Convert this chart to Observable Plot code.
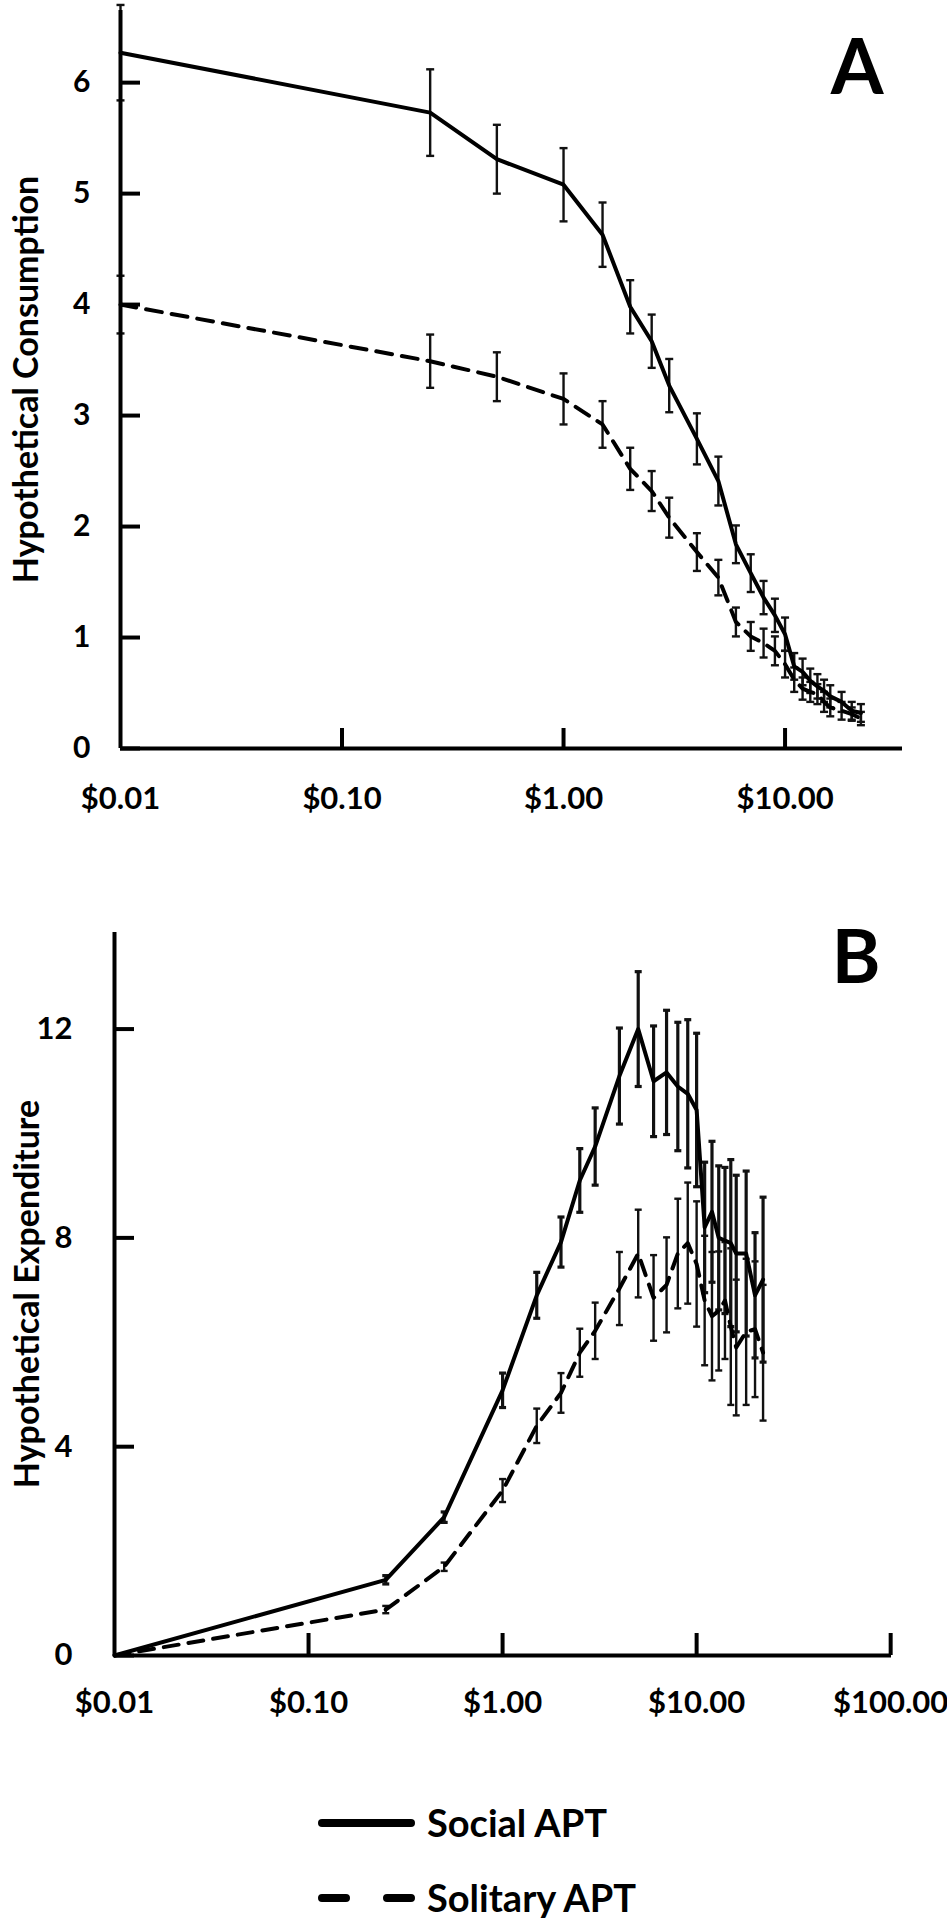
<!DOCTYPE html>
<html>
<head>
<meta charset="utf-8">
<script src="https://cdn.jsdelivr.net/npm/d3@7"></script>
<script src="https://cdn.jsdelivr.net/npm/@observablehq/plot@0.6"></script>
<style>
  html, body { margin: 0; padding: 0; background: #fff; }
  body { width: 947px; height: 1920px; overflow: hidden; font-family: Lato, "Open Sans", sans-serif; }
  #a, #b, #legend { display: block; }
  #a svg, #b svg { display: block; }
</style>
</head>
<body>
<div id="a"></div>
<div id="b"></div>
<div id="legend"></div>
<script>
// ---------- data ----------
// price $0 is plotted at $0.01 on the log axis
const prices = [0.01, 0.25, 0.5, 1, 1.5, 2, 2.5, 3, 4, 5, 6, 7, 8, 9, 10, 11, 12, 13, 14, 15, 16, 18, 20, 22];
const seriesNames = ["Social APT", "Solitary APT"];

// Panel A: hypothetical consumption (mean, SE)
const socialConsumption   = [6.27, 5.73, 5.31, 5.08, 4.63, 3.98, 3.67, 3.27, 2.79, 2.41, 1.84, 1.58, 1.36, 1.20, 1.03, 0.74, 0.69, 0.61, 0.56, 0.52, 0.47, 0.42, 0.34, 0.32];
const socialConsumptionSE = [0.43, 0.39, 0.31, 0.33, 0.29, 0.24, 0.24, 0.24, 0.23, 0.22, 0.17, 0.17, 0.15, 0.15, 0.15, 0.12, 0.12, 0.11, 0.11, 0.10, 0.10, 0.09, 0.08, 0.08];
const solitaryConsumption   = [4.00, 3.49, 3.35, 3.15, 2.92, 2.52, 2.32, 2.08, 1.77, 1.54, 1.14, 1.01, 0.95, 0.88, 0.76, 0.62, 0.54, 0.51, 0.49, 0.42, 0.37, 0.34, 0.31, 0.27];
const solitaryConsumptionSE = [0.26, 0.24, 0.22, 0.23, 0.21, 0.19, 0.18, 0.18, 0.17, 0.16, 0.13, 0.13, 0.13, 0.13, 0.12, 0.11, 0.10, 0.09, 0.09, 0.09, 0.08, 0.08, 0.06, 0.06];

// Panel B: hypothetical expenditure (mean, SE)
const socialExpenditure   = [0, 1.45, 2.65, 5.08, 6.90, 7.92, 9.10, 9.75, 11.10, 12.00, 11.00, 11.17, 10.90, 10.76, 10.45, 8.20, 8.50, 8.00, 7.95, 7.90, 7.70, 7.70, 6.90, 7.20];
const socialExpenditureSE = [0, 0.08, 0.10, 0.33, 0.44, 0.48, 0.61, 0.74, 0.92, 1.10, 1.06, 1.19, 1.23, 1.42, 1.47, 1.25, 1.35, 1.38, 1.40, 1.60, 1.50, 1.58, 1.20, 1.58];
const solitaryExpenditure   = [0, 0.88, 1.70, 3.16, 4.40, 5.03, 5.80, 6.22, 7.03, 7.70, 6.85, 7.10, 7.70, 7.90, 7.50, 6.80, 6.50, 6.60, 6.80, 6.30, 5.90, 6.20, 6.25, 5.80];
const solitaryExpenditureSE = [0, 0.07, 0.08, 0.22, 0.33, 0.38, 0.46, 0.54, 0.70, 0.84, 0.82, 0.91, 1.05, 1.16, 1.20, 1.24, 1.23, 1.14, 1.12, 1.50, 1.30, 1.40, 1.30, 1.30];

// axes
const xTicksA = [0.01, 0.1, 1, 10];
const xTicksB = [0.01, 0.1, 1, 10, 100];
const yTicksA = [0, 1, 2, 3, 4, 5, 6];
const yTicksB = [0, 4, 8, 12];
const yLabelA = "Hypothetical Consumption";
const yLabelB = "Hypothetical Expenditure";
const panelLetters = ["A", "B"];

// ---------- build ----------
const rows = (vals, ses) => prices.map((p, i) => ({price: p, value: vals[i], se: ses[i]}));
const socialA = rows(socialConsumption, socialConsumptionSE);
const solitaryA = rows(solitaryConsumption, solitaryConsumptionSE);
const socialB = rows(socialExpenditure, socialExpenditureSE);
const solitaryB = rows(solitaryExpenditure, solitaryExpenditureSE);

const FONT = "Lato, 'Open Sans', sans-serif";
const capSymbol = { draw(ctx, size) { const r = Math.sqrt(size / Math.PI); ctx.moveTo(-r, 0); ctx.lineTo(r, 0); } };
const money = d => "$" + d.toFixed(2);
const intFmt = d => String(Math.round(d));

function errorBars(data, sw, r) {
  const d = data.filter(e => e.se > 0);
  return [
    Plot.ruleX(d, {x: "price", y1: e => e.value - e.se, y2: e => e.value + e.se, stroke: "#111", strokeWidth: sw}),
    Plot.dot(d, {x: "price", y: e => e.value + e.se, symbol: capSymbol, r, stroke: "#111", strokeWidth: sw, fill: "none"}),
    Plot.dot(d, {x: "price", y: e => e.value - e.se, symbol: capSymbol, r, stroke: "#111", strokeWidth: sw, fill: "none"})
  ];
}

const chartA = Plot.plot({
  width: 947, height: 830,
  marginTop: 10, marginLeft: 120, marginRight: 45, marginBottom: 82,
  style: {fontFamily: FONT, background: "white", overflow: "visible", color: "#000"},
  x: {type: "log", domain: [0.01, 33.9], label: null},
  y: {domain: [0, 6.65], label: null},
  marks: [
    ...errorBars(socialA, 2.4, 4),
    ...errorBars(solitaryA, 2.4, 4),
    Plot.line(socialA, {x: "price", y: "value", stroke: "#000", strokeWidth: 4}),
    Plot.line(solitaryA, {x: "price", y: "value", stroke: "#000", strokeWidth: 4, strokeDasharray: "16,10"}),
    Plot.ruleX([xTicksA[0]], {stroke: "#000", strokeWidth: 4}),
    Plot.ruleY([0], {stroke: "#000", strokeWidth: 4}),
    Plot.axisY({ticks: yTicksA, tickSize: -20, strokeWidth: 4, tickFormat: () => "", label: null}),
    Plot.axisY({ticks: yTicksA, tickSize: 0, tickPadding: 30, tickFormat: intFmt, fontSize: 30, fontWeight: "bold", label: null}),
    Plot.axisX({ticks: xTicksA.slice(1), tickSize: -20, strokeWidth: 4, tickFormat: () => "", label: null}),
    Plot.axisX({ticks: xTicksA, tickSize: 0, tickPadding: 38, tickFormat: money, fontSize: 31, fontWeight: "bold", label: null}),
    Plot.text([yLabelA], {frameAnchor: "left", textAnchor: "middle", lineAnchor: "middle", rotate: -90, dx: -93, fontSize: 34, fontWeight: "bold", fill: "#000"}),
    Plot.text([panelLetters[0]], {frameAnchor: "top-right", textAnchor: "end", lineAnchor: "bottom", dx: -19, dy: 83, fontSize: 76, fontWeight: "bold", fill: "#000"})
  ]
});
document.getElementById("a").appendChild(chartA);

const chartB = Plot.plot({
  width: 947, height: 900,
  marginTop: 102, marginLeft: 114, marginRight: 56, marginBottom: 75,
  style: {fontFamily: FONT, background: "white", overflow: "visible", color: "#000"},
  x: {type: "log", domain: [0.01, 101], label: null},
  y: {domain: [0, 13.85], label: null},
  marks: [
    ...errorBars(solitaryB, 2.4, 3.5),
    ...errorBars(socialB, 3.2, 3.5),
    Plot.line(socialB, {x: "price", y: "value", stroke: "#000", strokeWidth: 4}),
    Plot.line(solitaryB, {x: "price", y: "value", stroke: "#000", strokeWidth: 4, strokeDasharray: "15,10"}),
    Plot.ruleX([xTicksB[0]], {stroke: "#000", strokeWidth: 4}),
    Plot.ruleY([0], {stroke: "#000", strokeWidth: 4}),
    Plot.axisY({ticks: yTicksB, tickSize: -20, strokeWidth: 4, tickFormat: () => "", label: null}),
    Plot.axisY({ticks: yTicksB, tickSize: 0, tickPadding: 42, tickFormat: intFmt, fontSize: 31, fontWeight: "bold", label: null}),
    Plot.axisX({ticks: xTicksB.slice(1), tickSize: -22, strokeWidth: 4, tickFormat: () => "", label: null}),
    Plot.axisX({ticks: xTicksB, tickSize: 0, tickPadding: 35, tickFormat: money, fontSize: 31, fontWeight: "bold", label: null}),
    Plot.text([yLabelB], {frameAnchor: "left", textAnchor: "middle", lineAnchor: "middle", rotate: -90, dx: -86, fontSize: 34, fontWeight: "bold", fill: "#000"}),
    Plot.text([panelLetters[1]], {frameAnchor: "top-right", textAnchor: "end", lineAnchor: "bottom", dx: -11, dy: 50, fontSize: 74, fontWeight: "bold", fill: "#000"})
  ]
});
document.getElementById("b").appendChild(chartB);

// ---------- legend ----------
const ns = "http://www.w3.org/2000/svg";
const leg = document.createElementNS(ns, "svg");
leg.setAttribute("width", 947);
leg.setAttribute("height", 190);
leg.style.display = "block";
const dashes = [null, "24,41"];
seriesNames.forEach((name, i) => {
  const yLine = 93 + i * 75;
  const line = document.createElementNS(ns, "line");
  line.setAttribute("x1", 322); line.setAttribute("x2", 411);
  line.setAttribute("y1", yLine); line.setAttribute("y2", yLine);
  line.setAttribute("stroke", "#000"); line.setAttribute("stroke-width", 8);
  line.setAttribute("stroke-linecap", "round");
  if (dashes[i]) line.setAttribute("stroke-dasharray", dashes[i]);
  leg.appendChild(line);
  const t = document.createElementNS(ns, "text");
  t.setAttribute("x", 427); t.setAttribute("y", yLine + 14);
  t.setAttribute("font-family", FONT); t.setAttribute("font-size", 38); t.setAttribute("font-weight", "bold");
  t.setAttribute("fill", "#000");
  t.textContent = name;
  leg.appendChild(t);
});
document.getElementById("legend").appendChild(leg);
</script>
</body>
</html>
